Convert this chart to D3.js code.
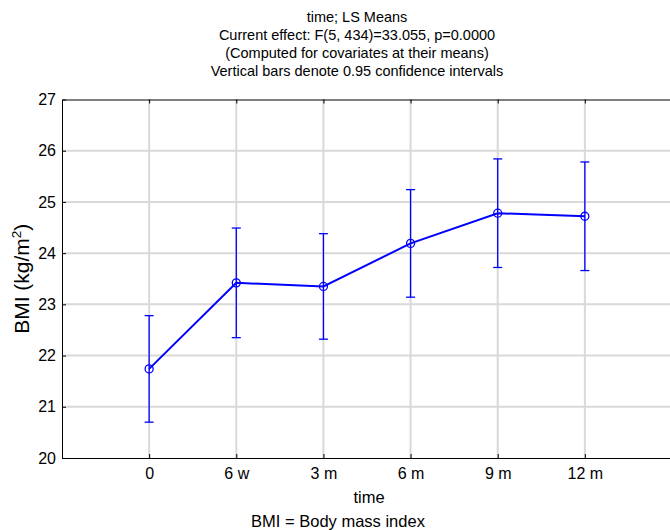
<!DOCTYPE html>
<html><head><meta charset="utf-8">
<script src="https://cdn.jsdelivr.net/npm/d3@7"></script>
<style>body{margin:0;background:#fff}svg{display:block;font-family:"Liberation Sans",Arial,sans-serif}</style>
</head><body><svg id="c" width="670" height="530"></svg>
<script>
const categories = ["0","6 w","3 m","6 m","9 m","12 m"];
const means = [21.74, 23.42, 23.35, 24.19, 24.78, 24.72];
const upper = [22.78, 24.49, 24.38, 25.24, 25.84, 25.78];
const lower = [20.70, 22.35, 22.32, 23.14, 23.72, 23.66];
const yTicks = [20,21,22,23,24,25,26,27];
const titleLines = ["time; LS Means","Current effect: F(5, 434)=33.055, p=0.0000","(Computed for covariates at their means)","Vertical bars denote 0.95 confidence intervals"];

const svg = d3.select("#c");
const L=62, T=99.5, B=458, R=672;
const x = d3.scaleLinear().domain([-1, categories.length]).range([L, R]);
const y = d3.scaleLinear().domain([20,27]).range([B, T]);
const idx = categories.map((d,i)=>i);
const FF = "Liberation Sans, Arial, sans-serif";

// grid
svg.append("g").selectAll("line").data(idx).join("line")
  .attr("x1",i=>x(i)).attr("x2",i=>x(i)).attr("y1",T).attr("y2",B)
  .attr("stroke","#d9d9d9").attr("stroke-width",2);
svg.append("g").selectAll("line").data(yTicks.slice(1,-1)).join("line")
  .attr("x1",L).attr("x2",R).attr("y1",d=>y(d)).attr("y2",d=>y(d))
  .attr("stroke","#d9d9d9").attr("stroke-width",2);

// axes
const xa = svg.append("g").attr("transform",`translate(0,${B})`)
  .call(d3.axisBottom(x).tickValues(idx).tickFormat(i=>categories[i]).tickSizeInner(-4).tickSizeOuter(0).tickPadding(10));
xa.select(".domain").attr("stroke","#000");
xa.selectAll("text").attr("font-size",16).attr("font-family",FF).attr("fill","#000");
const xt = svg.append("g").attr("transform",`translate(0,${T})`)
  .call(d3.axisTop(x).tickValues(idx).tickFormat("").tickSizeInner(-4).tickSizeOuter(0));
xt.select(".domain").attr("stroke","#000");
const ya = svg.append("g").attr("transform",`translate(${L},0)`)
  .call(d3.axisLeft(y).tickValues(yTicks).tickFormat(d3.format("d")).tickSizeInner(-4).tickSizeOuter(0).tickPadding(6));
ya.select(".domain").attr("stroke","#000");
ya.selectAll("text").attr("font-size",16).attr("font-family",FF).attr("fill","#000");

// error bars
const eb = svg.append("g").attr("stroke","#0000ff").attr("stroke-width",1.3);
eb.selectAll("line.v").data(idx).join("line").attr("class","v")
  .attr("x1",i=>x(i)).attr("x2",i=>x(i)).attr("y1",i=>y(upper[i])).attr("y2",i=>y(lower[i]));
eb.selectAll("line.u").data(idx).join("line").attr("class","u")
  .attr("x1",i=>x(i)-4.5).attr("x2",i=>x(i)+4.5).attr("y1",i=>y(upper[i])).attr("y2",i=>y(upper[i]));
eb.selectAll("line.l").data(idx).join("line").attr("class","l")
  .attr("x1",i=>x(i)-4.5).attr("x2",i=>x(i)+4.5).attr("y1",i=>y(lower[i])).attr("y2",i=>y(lower[i]));

// line
svg.append("path").datum(idx)
  .attr("d", d3.line().x(i=>x(i)).y(i=>y(means[i])))
  .attr("fill","none").attr("stroke","#0000ff").attr("stroke-width",2);
svg.append("g").selectAll("circle").data(idx).join("circle")
  .attr("cx",i=>x(i)).attr("cy",i=>y(means[i])).attr("r",4)
  .attr("fill","none").attr("stroke","#0000ff").attr("stroke-width",1.3);

// titles
svg.append("g").selectAll("text").data(titleLines).join("text")
  .attr("x",357).attr("y",(d,i)=>22+i*18).attr("text-anchor","middle")
  .attr("font-size",14.5).text(d=>d);

svg.append("text").attr("x",369).attr("y",503).attr("text-anchor","middle").attr("font-size",16.5).text("time");
svg.append("text").attr("x",338).attr("y",527).attr("text-anchor","middle").attr("font-size",16.5).text("BMI = Body mass index");

const yl = svg.append("text").attr("transform",`translate(29,${(T+B)/2}) rotate(-90)`)
  .attr("text-anchor","middle").attr("font-size",21);
yl.append("tspan").text("BMI (kg/m");
yl.append("tspan").attr("font-size",13.5).attr("dy",-8).text("2");
yl.append("tspan").attr("dy",8).text(")");
</script></body></html>
